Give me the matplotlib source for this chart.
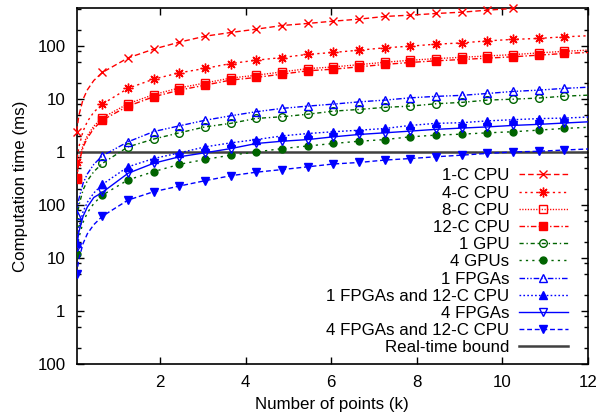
import matplotlib
matplotlib.use("Agg")
import matplotlib.pyplot as plt
from matplotlib.ticker import FixedLocator, FixedFormatter, NullFormatter

plt.rcParams['font.family'] = ['Liberation Sans', 'DejaVu Sans']

# Number of points (thousands) at which each configuration was timed
points_k = [0.05, 0.1, 0.2, 0.3, 0.45, 0.65, 1.25, 1.85, 2.45, 3.05, 3.65, 4.25,
            4.85, 5.45, 6.05, 6.65, 7.25, 7.85, 8.45, 9.05, 9.65, 10.25, 10.85,
            11.45, 12.0]

# Computation time in milliseconds
cpu_1c = [2.43, 4.9, 10, 15, 22.5, 31.9, 60, 88, 119, 154, 181, 209, 245, 268,
          296, 323, 363, 384, 413, 437, 477, 514]
cpu_4c = [0.64, 1.25, 2.5, 3.8, 5.7, 8.07, 16, 23.9, 31.4, 38, 47, 54.4, 61, 70,
          76, 84, 93, 100, 109, 115, 126, 134, 140, 150, 157]
cpu_8c = [0.33, 0.68, 1.38, 2.05, 3.1, 4.45, 8.2, 12.2, 16.3, 20.2, 25, 28.3,
          32.7, 37.7, 40.5, 44.8, 49.7, 54.2, 58.2, 61.6, 65.3, 69.3, 74.5, 80, 84]
cpu_12c = [0.31, 0.62, 1.25, 1.85, 2.8, 4.03, 7.4, 11.1, 14.8, 18.4, 22.9, 25.7,
           29.7, 34.3, 36.8, 40.7, 45.2, 49.3, 52.9, 56, 59.4, 63, 67.7, 72.8, 76]
gpu_1 = [0.049, 0.098, 0.195, 0.29, 0.43, 0.615, 1.26, 1.77, 2.32, 3.0, 3.5, 4.34,
         4.66, 5.2, 5.95, 6.4, 7.0, 7.4, 8.2, 8.7, 9.6, 10, 10.5, 11.4, 11.9]
gpu_4 = [0.012, 0.024, 0.048, 0.072, 0.108, 0.155, 0.30, 0.43, 0.59, 0.73, 0.88,
         1.01, 1.17, 1.31, 1.46, 1.61, 1.73, 1.95, 2.1, 2.19, 2.32, 2.43, 2.61,
         2.81, 2.95]
fpga_1 = [0.065, 0.13, 0.26, 0.39, 0.59, 0.855, 1.57, 2.45, 3.14, 4.0, 4.86, 5.8,
          6.7, 7.4, 8.07, 8.9, 9.6, 10.6, 11.3, 11.8, 12.8, 14, 14.8, 16, 16.8]
fpga_1_cpu = [0.019, 0.038, 0.076, 0.114, 0.17, 0.247, 0.53, 0.76, 0.97, 1.26, 1.5,
              1.73, 2.03, 2.25, 2.43, 2.6, 2.8, 3.2, 3.5, 3.6, 3.9, 4.1, 4.3, 4.4,
              4.6]
fpga_4 = [0.016, 0.031, 0.062, 0.093, 0.14, 0.175, 0.4, 0.62, 0.82, 0.975, 1.17,
          1.46, 1.61, 1.73, 1.95, 2.16, 2.32, 2.5, 2.7, 2.85, 3.0, 3.2, 3.35, 3.55,
          3.74]
fpga_4_cpu = [0.005, 0.0096, 0.019, 0.029, 0.043, 0.062, 0.125, 0.18, 0.23, 0.29,
              0.36, 0.42, 0.47, 0.53, 0.60, 0.64, 0.71, 0.76, 0.82, 0.88, 0.95,
              1.01, 1.04, 1.1, 1.15]
realtime_bound_ms = 1.0

series_labels = ["1-C CPU", "4-C CPU", "8-C CPU", "12-C CPU", "1 GPU", "4 GPUs",
                 "1 FPGAs", "1 FPGAs and 12-C CPU", "4 FPGAs",
                 "4 FPGAs and 12-C CPU"]
bound_label = "Real-time bound"

# decades from 100 ns up to 100 ms, labelled within their own unit
y_tick_values = [1e-4, 1e-3, 1e-2, 1e-1, 1e0, 1e1, 1e2]
y_tick_labels = ["100", "1", "10", "100", "1", "10", "100"]
x_tick_values = [2, 4, 6, 8, 10, 12]
x_label = "Number of points (k)"
y_label = "Computation time (ms)"

RED = "#ff0000"
GREEN = "#006400"
BLUE = "#0000ff"
FS = 12.2

styles = [
    dict(color=RED, marker="x", ms=6, mew=1.0, ls=(0, (4, 2.2))),
    dict(color=RED, marker=(8, 2, 0), ms=7, mew=1.0, ls=(0, (1.6, 2.4))),
    dict(color=RED, marker="s", ms=6, mew=1.0, mfc="none", ls=(0, (0.9, 1.1))),
    dict(color=RED, marker="s", ms=6, mew=1.0, ls=(0, (4, 1.6, 1, 1.6))),
    dict(color=GREEN, marker="o", ms=5.5, mew=1.0, mfc="none", ls=(0, (3, 2, 1, 2))),
    dict(color=GREEN, marker="o", ms=5, mew=1.0, ls=(0, (1.6, 3))),
    dict(color=BLUE, marker="^", ms=6, mew=1.0, mfc="none",
         ls=(0, (4, 1.4, 1, 1.4, 1, 1.4))),
    dict(color=BLUE, marker="^", ms=5.5, mew=1.0, ls=(0, (1.2, 1.6))),
    dict(color=BLUE, marker="v", ms=6, mew=1.0, mfc="none", ls="-"),
    dict(color=BLUE, marker="v", ms=5.5, mew=1.0, ls=(0, (3.5, 2))),
]

all_series = [cpu_1c, cpu_4c, cpu_8c, cpu_12c, gpu_1, gpu_4, fpga_1, fpga_1_cpu,
              fpga_4, fpga_4_cpu]

fig = plt.figure(figsize=(6.0, 4.2), dpi=100)
ax = fig.add_axes([0.1278, 0.1326, 0.98 - 0.1278, 0.980 - 0.1326])

# markers sit on the coarse sampling grid; the extra early samples shape the curve
mark_idx = [0] + list(range(5, 24))

for vals, lab, st in zip(all_series, series_labels, styles):
    xs = points_k[:len(vals)]
    idx = [i for i in mark_idx if i < len(vals)]
    ax.plot(xs, vals, label=lab, lw=1.0, markevery=idx, clip_on=(vals is not cpu_1c),
            zorder=3, **st)

ax.axhline(realtime_bound_ms, color="#404040", lw=1.8, label=bound_label, zorder=2)

ax.set_yscale("log")
ax.set_xlim(0.05, 12)
ax.set_ylim(1e-4, 515)

ax.yaxis.set_major_locator(FixedLocator(y_tick_values))
ax.yaxis.set_major_formatter(FixedFormatter(y_tick_labels))
minor = []
for e in range(-4, 3):
    for m in (2, 5, 8):
        v = m * 10.0 ** e
        if v < 515:
            minor.append(v)
ax.yaxis.set_minor_locator(FixedLocator(minor))
ax.yaxis.set_minor_formatter(NullFormatter())
ax.xaxis.set_major_locator(FixedLocator(x_tick_values))

ax.tick_params(which="both", direction="in", top=True, right=True, labelsize=FS,
               width=1.0, colors="black")
ax.tick_params(which="major", length=5, pad=8)
ax.tick_params(which="minor", length=3)
for sp in ax.spines.values():
    sp.set_linewidth(1.2)

ax.set_xlabel(x_label, fontsize=FS, labelpad=5)
ax.set_ylabel(y_label, fontsize=FS, labelpad=7)

leg = ax.legend(loc="lower right", bbox_to_anchor=(0.961, 0.025), frameon=False,
                markerfirst=False, fontsize=FS, handlelength=2.9,
                handletextpad=0.55, labelspacing=0.13, borderpad=0, borderaxespad=0)

fig.savefig("out.png", dpi=100)
